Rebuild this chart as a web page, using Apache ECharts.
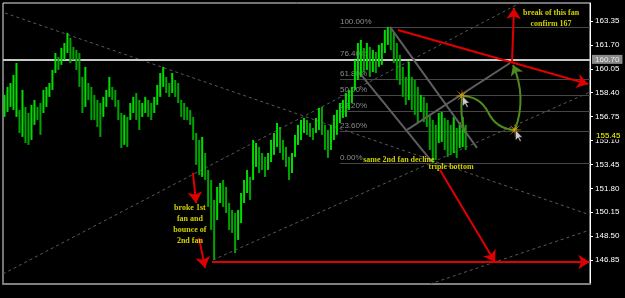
<!DOCTYPE html>
<html><head><meta charset="utf-8">
<script src="https://cdn.jsdelivr.net/npm/echarts@6/dist/echarts.min.js"></script>
<style>html,body{margin:0;padding:0;background:#000;}#c{width:625px;height:298px;}</style>
</head><body><div id="c"></div>
<script>
// ---- price bars (one per bar index) ----
const highs = [158.25,158.80,159.07,159.63,160.45,157.21,158.59,157.42,157.00,157.56,
157.90,157.42,157.69,158.59,158.80,159.07,159.97,161.14,160.87,161.49,
161.83,162.52,162.18,161.56,161.35,161.14,159.49,160.18,159.07,158.80,
158.25,157.90,157.69,158.11,158.59,159.49,158.80,158.59,157.90,157.00,
156.87,156.73,157.69,158.11,158.38,157.90,157.69,158.11,157.90,157.69,
158.11,158.94,159.76,160.18,159.49,159.07,159.76,159.28,159.07,157.90,
157.69,157.42,157.21,156.73,155.62,155.14,155.35,154.24,153.07,152.38,
151.00,151.90,152.17,152.38,151.90,150.79,150.31,150.10,150.31,151.48,
152.38,153.07,152.59,155.14,154.93,154.66,154.24,153.97,154.24,155.14,
155.62,156.31,156.04,155.14,154.66,153.97,154.24,155.49,156.18,156.52,
156.66,156.52,156.31,155.97,156.66,157.35,157.42,156.18,155.83,156.18,
156.87,157.21,157.69,157.90,158.38,158.59,158.80,160.66,161.83,162.04,
161.49,161.83,161.56,161.35,161.21,161.70,161.83,162.73,162.94,162.87,
162.59,161.83,161.01,160.18,159.49,160.52,159.49,159.28,158.80,158.25,
158.11,157.69,156.87,156.52,156.18,157.00,157.07,156.66,156.52,156.18,
156.73,155.97,156.38,156.73,156.18];
const lows = [156.73,157.07,157.42,157.21,156.73,155.62,155.35,154.93,154.80,155.14,
156.18,156.52,155.49,157.00,157.42,158.11,158.59,159.76,159.97,160.32,
160.66,161.14,160.45,160.66,159.97,158.80,157.00,157.42,157.90,156.52,
156.52,156.04,155.35,156.73,157.42,158.11,157.90,157.42,156.52,154.59,
154.80,154.66,156.52,157.00,156.52,155.83,156.73,157.00,156.73,156.52,
157.00,157.56,158.11,158.80,158.38,158.11,158.38,158.11,157.69,156.73,
156.52,156.52,156.18,155.14,153.42,152.73,152.59,152.38,150.52,148.93,
146.86,149.62,150.79,150.52,150.10,148.93,148.72,147.34,148.24,149.41,
150.79,151.48,151.00,152.38,153.28,152.86,153.07,152.59,153.07,153.62,
154.11,154.66,154.24,153.76,153.28,152.38,152.86,153.97,154.80,155.14,
155.62,155.49,155.35,155.14,155.62,155.83,155.49,154.45,153.90,154.45,
155.14,155.49,156.31,156.66,156.73,157.21,157.69,158.59,159.28,159.49,
159.83,159.97,159.49,159.83,159.76,160.18,160.32,161.14,161.70,161.35,
160.45,159.28,158.94,158.11,157.56,157.90,157.21,156.87,156.31,157.07,
156.38,156.04,154.45,153.55,153.76,154.93,155.00,154.45,153.97,154.11,
154.24,153.90,154.59,154.66,154.45];

// ---- axis ----
const yMin = 145.20, yMax = 164.59, yInterval = 1.65;
const xMin = -0.5, xMax = 195.5;
const lastPrice = 160.70;
const bidPrice = 155.45;

// ---- fibonacci retracement ----
const fibLabels = ['100.00%','76.40%','61.80%','50.00%','38.20%','23.60%','0.00%'];
const fibPrices = [162.94,160.72,159.35,158.24,157.14,155.76,153.55];
const fibStartX = 112.0;

// ---- drawn objects (bar index, price) ----
const fanDashed = [
  [[0.17,163.90],[195.5,149.97]],
  [[-0.5,145.89],[172.13,164.59]],
  [[69.62,146.86],[195.5,158.45]],
  [[142.07,145.20],[194.5,148.86]]
];
const fanSolid = [
  [[128.72,162.94],[157.77,154.59]],
  [[119.37,159.56],[142.74,153.62]],
  [[134.40,155.83],[168.80,160.45]]
];
const redArrows = [
  [[131.39,162.73],[194.83,159.00]],
  [[169.46,160.52],[170.13,164.25]],
  [[62.94,152.86],[63.94,150.79]],
  [[64.94,148.38],[66.95,146.31]],
  [[69.28,146.72],[195.3,146.72]],
  [[145.41,153.07],[163.78,146.72]]
];
const greenCurves = [
  [[153.76,155.62],[152.76,158.18], 0.1, false],
  [[152.76,158.18],[161.44,157.07], 0.3, false],
  [[161.44,157.07],[170.46,155.83], -0.3, false],
  [[170.46,155.83],[169.79,160.32], -0.2, true]
];
const stars = [[152.76,158.18],[170.46,155.83]];
const notes = [
  [182.5,163.50,'break of this fan\nconfirm 167'],
  [61.9,149.30,'broke 1st\nfan and\nbounce of\n2nd fan'],
  [131.7,153.76,'same 2nd fan decline'],
  [149.1,153.28,'triple bottom']
];

const barData = highs.map((h,i)=>[i, lows[i], h, i===0 ? 1 : ((h+lows[i]) >= (highs[i-1]+lows[i-1]) ? 1 : 0)]);

const starPath = 'path://M20,10 L11.85,10.77 L17.07,17.07 L10.77,11.85 L10,20 L9.23,11.85 L2.93,17.07 L8.15,10.77 L0,10 L8.15,9.23 L2.93,2.93 L9.23,8.15 L10,0 L10.77,8.15 L17.07,2.93 L11.85,9.23 Z';
const cursorPath = 'path://M0,0 L0,16 L4,12 L7,18 L9,17 L6,11 L11,11 Z';

const chart = echarts.init(document.getElementById('c'), null, {renderer:'canvas'});
chart.setOption({
  backgroundColor:'#000000',
  animation:false,
  grid:{left:3, right:35, top:3, bottom:14, show:true, borderColor:'#e8e8e8', borderWidth:1, backgroundColor:'transparent'},
  xAxis:{type:'value', min:xMin, max:xMax, axisLine:{show:true, onZero:false, lineStyle:{color:'#808080', width:2}},
    axisTick:{show:false}, axisLabel:{show:false}, splitLine:{show:false}},
  yAxis:{type:'value', position:'right', min:yMin, max:yMax, interval:yInterval,
    axisLine:{show:true, onZero:false, lineStyle:{color:'#ffffff', width:1}},
    axisTick:{show:true, length:3, lineStyle:{color:'#ffffff'}},
    axisLabel:{color:'#ffffff', fontSize:8, fontFamily:'Liberation Sans Narrow, Liberation Sans, Arial', margin:5,
      showMinLabel:false, showMaxLabel:false, formatter:v=>v.toFixed(2)},
    splitLine:{show:false}},
  series:[
    {type:'lines', coordinateSystem:'cartesian2d', z:1, silent:true, clip:false,
      lineStyle:{color:'#5a5a5a', width:1, type:[3,3], opacity:1},
      data: fanDashed.map(c=>({coords:c}))},
    {type:'custom', z:3, silent:true,
      renderItem:function(params, api){
        const lo = api.coord([api.value(0), api.value(1)]);
        const hi = api.coord([api.value(0), api.value(2)]);
        return {type:'rect', shape:{x:lo[0]-1, y:hi[1], width:2, height:Math.max(1, lo[1]-hi[1])},
          style:{fill: api.value(3) ? '#00dc00' : '#00a400'}};
      },
      encode:{x:0, y:[1,2]},
      data: barData,
      markLine:{silent:true, symbol:['none','none'], animation:false, z:2,
        data:[
          ...fibPrices.map((p,k)=>[
            {coord:[fibStartX,p], lineStyle:{color:'#464646', width:1, type:'solid'},
             label:{show:true, position:'insideStartTop', formatter:fibLabels[k], color:'#8c8c8c', fontSize:8, fontFamily:'Liberation Sans', distance:[0,1]}},
            {coord:[xMax,p]}
          ]),
          {yAxis:lastPrice, lineStyle:{color:'#c8c8c8', width:2, type:'solid'},
            label:{show:true, position:'end', distance:2, formatter:lastPrice.toFixed(2), color:'#e8e8e8', backgroundColor:'#8a8a8a', padding:[1,3,0,3], fontSize:8, fontFamily:'Liberation Sans Narrow, Liberation Sans'}},
          {yAxis:bidPrice, lineStyle:{color:'rgba(0,0,0,0)', width:1, type:'solid', opacity:1},
            label:{show:true, position:'end', distance:5, formatter:bidPrice.toFixed(2), color:'#ffff00', backgroundColor:'#000000', padding:[0,1,0,1], fontSize:8, fontFamily:'Liberation Sans Narrow, Liberation Sans'}}
        ]}
    },
    {type:'lines', coordinateSystem:'cartesian2d', z:4, silent:true, clip:false,
      lineStyle:{color:'#5e5e5e', width:2, opacity:1},
      data: fanSolid.map(c=>({coords:c}))},
    {type:'lines', coordinateSystem:'cartesian2d', z:5, silent:true, clip:false,
      symbol:['none','arrow'], symbolSize:[8,11],
      lineStyle:{color:'#e00000', width:2, opacity:1},
      data: redArrows.map(c=>({coords:c}))},
    {type:'lines', coordinateSystem:'cartesian2d', z:5, silent:true, clip:false,
      symbol:['none','none'], symbolSize:[7,10],
      lineStyle:{color:'#4f8a1e', width:2, opacity:1},
      data: greenCurves.map(g=>({coords:[g[0],g[1]], lineStyle:{curveness:g[2]}, symbol:['none', g[3]?'arrow':'none']}))},
    {type:'scatter', z:6, silent:true, symbol:starPath, symbolSize:15,
      itemStyle:{color:'#e8a800'}, data:stars},
    {type:'scatter', z:7, silent:true, symbol:cursorPath, symbolSize:[7,11], symbolOffset:[4,6],
      itemStyle:{color:'#ffffff', borderColor:'#000', borderWidth:0.5}, data:stars},
    {type:'scatter', z:8, silent:true, symbolSize:0,
      data: notes.map(n=>({value:[n[0],n[1]], label:{formatter:n[2]}})),
      label:{show:true, position:'inside', color:'#ffff00', fontSize:8, fontWeight:'bold',
        fontFamily:'Liberation Serif, Times New Roman, serif', lineHeight:11, align:'center', verticalAlign:'middle'}}
  ]
});
</script></body></html>
